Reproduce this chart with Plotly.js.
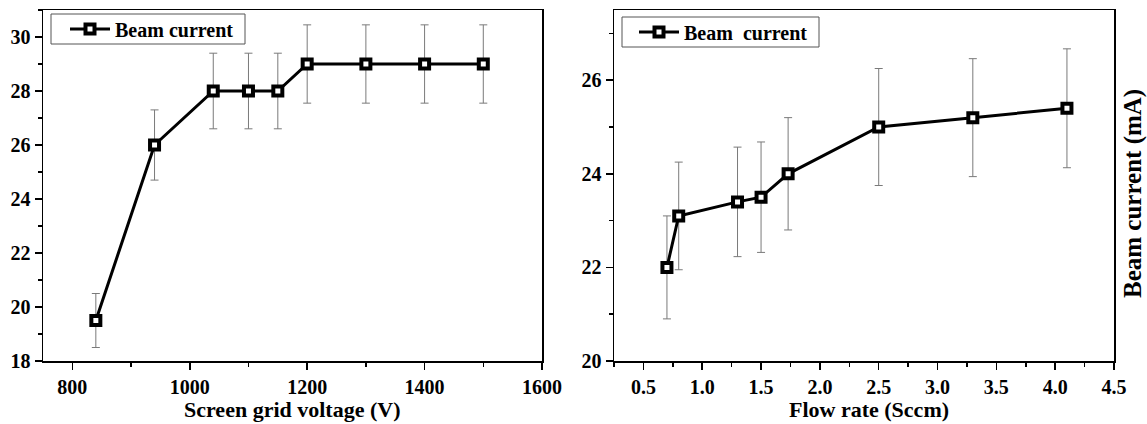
<!DOCTYPE html>
<html>
<head>
<meta charset="utf-8">
<script src="https://cdn.plot.ly/plotly-3.0.1.min.js"></script>
<style>html,body{margin:0;padding:0;background:#fff;}#chart{width:1147px;height:424px;}</style>
</head>
<body>
<div id="chart"></div>
<script>
// Left panel: beam current vs screen grid voltage
const voltage = [840, 940, 1040, 1100, 1150, 1200, 1300, 1400, 1500];
const currentV = [19.5, 26, 28, 28, 28, 29, 29, 29, 29];
const errV = [1.0, 1.3, 1.4, 1.4, 1.4, 1.45, 1.45, 1.45, 1.45];

// Right panel: beam current vs flow rate
const flow = [0.7, 0.8, 1.3, 1.5, 1.73, 2.5, 3.3, 4.1];
const currentF = [22, 23.1, 23.4, 23.5, 24, 25, 25.2, 25.4];
const errF = [1.1, 1.15, 1.17, 1.18, 1.2, 1.25, 1.26, 1.27];

const xTitleL = "Screen grid voltage (V)";
const xTitleR = "Flow rate (Sccm)";
const yTitleR = "Beam current (mA)";
const legendL = "Beam current";
const legendR = "Beam\u00a0 current";

const FONT = "Liberation Serif, Times New Roman, serif";
const W = 1147, H = 424;
const px = v => v / W;
const py = v => (H - v) / H;

const markerStyle = {symbol: 'square', size: 9, color: '#ffffff', line: {color: '#000', width: 4}};
const errStyle = {type: 'data', visible: true, color: '#7a7a7a', thickness: 1, width: 4};

const traces = [
  {
    x: voltage, y: currentV, xaxis: 'x', yaxis: 'y',
    type: 'scatter', mode: 'lines+markers', name: legendL, legend: 'legend',
    line: {color: '#000', width: 3},
    marker: markerStyle,
    error_y: Object.assign({array: errV}, errStyle)
  },
  {
    x: flow, y: currentF, xaxis: 'x2', yaxis: 'y2',
    type: 'scatter', mode: 'lines+markers', name: legendR, legend: 'legend2',
    line: {color: '#000', width: 3},
    marker: markerStyle,
    error_y: Object.assign({array: errF}, errStyle)
  }
];

function axisBase() {
  return {
    showline: true, linecolor: '#000', linewidth: 1.5, mirror: true,
    showgrid: false, zeroline: false,
    ticks: 'outside', ticklen: 7, tickwidth: 1.5, tickcolor: '#000',
    tickfont: {family: FONT, size: 20, color: '#000', weight: 'bold'},
    minor: {ticks: 'outside', ticklen: 4, tickwidth: 1.5, tickcolor: '#000', showgrid: false}
  };
}

const yDom = [py(361), py(10)];

const legendBase = {
  xanchor: 'left', yanchor: 'middle',
  bgcolor: 'rgba(0,0,0,0)', borderwidth: 0,
  font: {family: FONT, size: 20, color: '#000', weight: 'bold'},
  itemwidth: 40
};

const layout = {
  width: W, height: H,
  margin: {l: 0, r: 0, t: 0, b: 0},
  paper_bgcolor: '#fff', plot_bgcolor: 'rgba(0,0,0,0)',
  font: {family: FONT, size: 20, color: '#000', weight: 'bold'},
  showlegend: true,
  xaxis: Object.assign(axisBase(), {
    domain: [px(43), px(542)], range: [750, 1600], dtick: 200, tick0: 0,
    minor: Object.assign(axisBase().minor, {dtick: 100}), anchor: 'y'
  }),
  yaxis: Object.assign(axisBase(), {
    domain: yDom, range: [18, 31], dtick: 2, tick0: 0,
    minor: Object.assign(axisBase().minor, {dtick: 1}), anchor: 'x'
  }),
  xaxis2: Object.assign(axisBase(), {
    domain: [px(614), px(1114)], range: [0.25, 4.5], dtick: 0.5, tick0: 0, tickformat: '.1f',
    minor: Object.assign(axisBase().minor, {dtick: 0.25}), anchor: 'y2'
  }),
  yaxis2: Object.assign(axisBase(), {
    domain: yDom, range: [20, 27.5], dtick: 2, tick0: 0,
    minor: Object.assign(axisBase().minor, {dtick: 1}), anchor: 'x2'
  }),
  legend: Object.assign({}, legendBase, {x: px(65), y: py(29)}),
  legend2: Object.assign({}, legendBase, {x: px(634), y: py(32)}),
  shapes: [
    {type: 'rect', xref: 'paper', yref: 'paper', x0: px(51), x1: px(245), y0: py(44), y1: py(14),
     line: {color: '#555', width: 1}, fillcolor: 'rgba(0,0,0,0)', layer: 'below'},
    {type: 'rect', xref: 'paper', yref: 'paper', x0: px(622), x1: px(819), y0: py(47), y1: py(17),
     line: {color: '#555', width: 1}, fillcolor: 'rgba(0,0,0,0)', layer: 'below'}
  ],
  annotations: [
    {text: xTitleL, xref: 'paper', yref: 'paper', x: px(292), y: py(409),
     xanchor: 'center', yanchor: 'middle', showarrow: false,
     font: {family: FONT, size: 22, color: '#000', weight: 'bold'}},
    {text: xTitleR, xref: 'paper', yref: 'paper', x: px(869), y: py(409),
     xanchor: 'center', yanchor: 'middle', showarrow: false,
     font: {family: FONT, size: 22, color: '#000', weight: 'bold'}},
    {text: yTitleR, xref: 'paper', yref: 'paper', x: px(1133), y: py(194),
     xanchor: 'center', yanchor: 'middle', showarrow: false, textangle: -90,
     font: {family: FONT, size: 25, color: '#000', weight: 'bold'}}
  ]
};

Plotly.newPlot('chart', traces, layout, {staticPlot: true, displayModeBar: false});
</script>
</body>
</html>
